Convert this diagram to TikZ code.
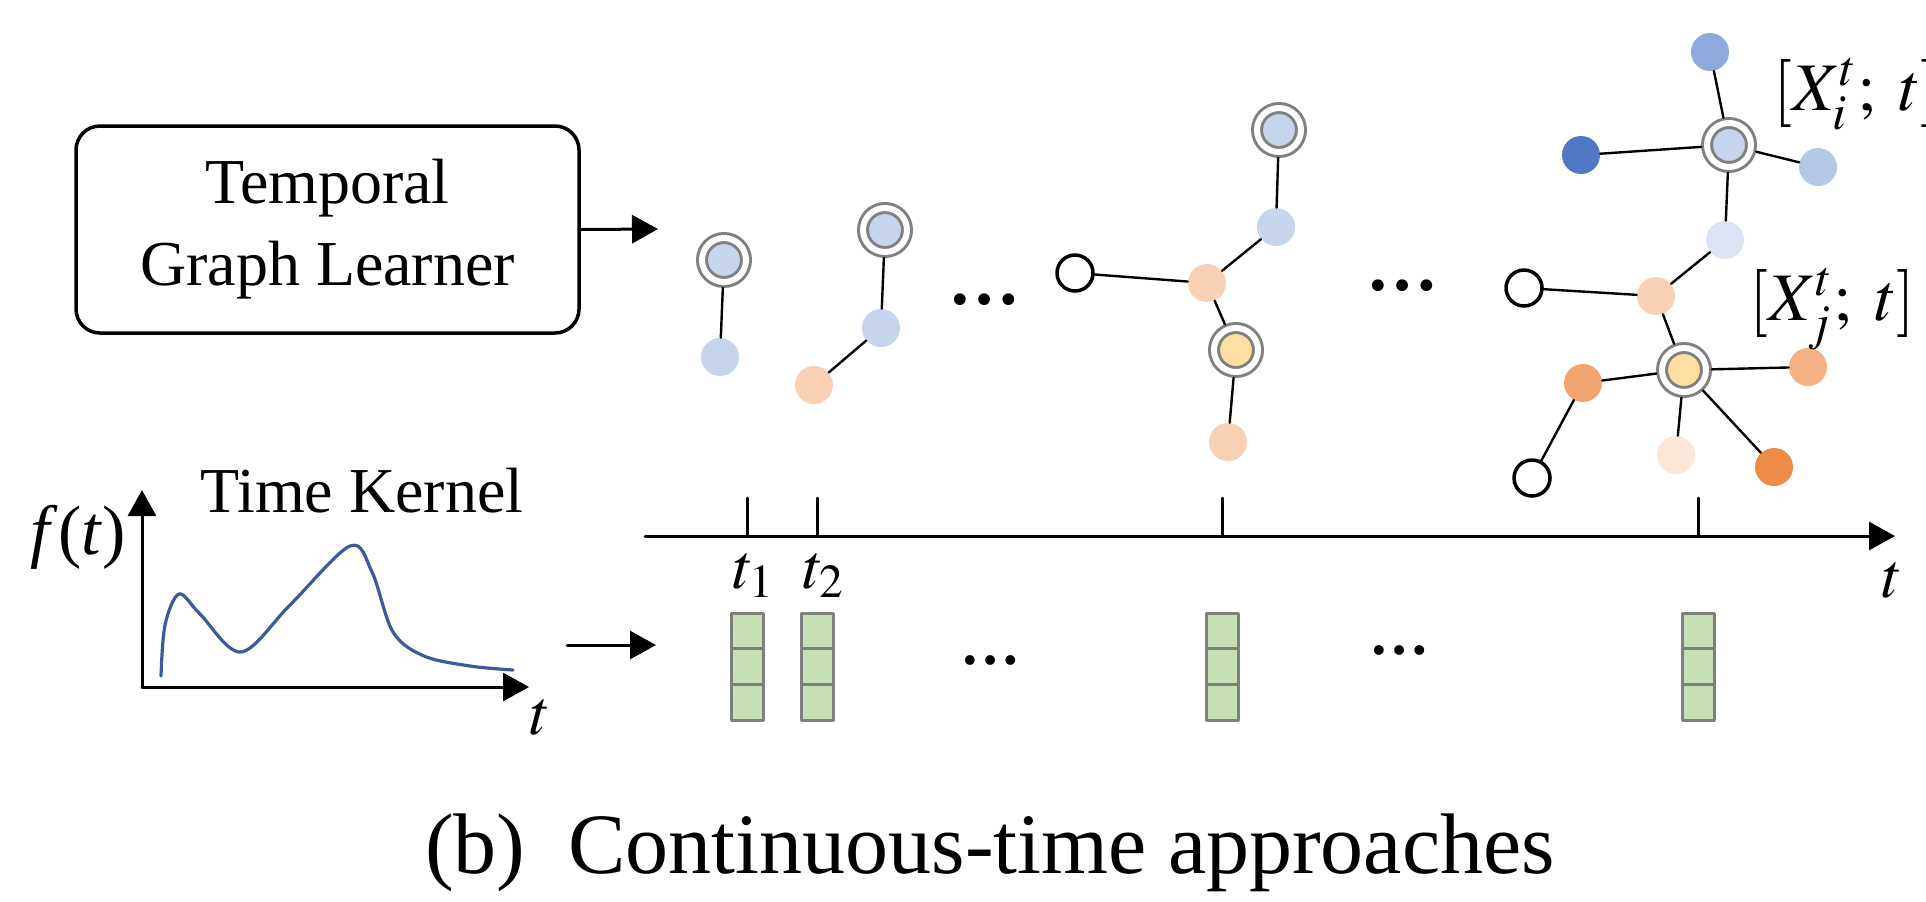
\documentclass[tikz,border=0pt]{standalone}
\usepackage{mathptmx}
\usepackage{fontspec}
\setmainfont{Liberation Serif}
\usetikzlibrary{arrows.meta}

\definecolor{ringgray}{HTML}{808080}
\definecolor{bluelt}{HTML}{C6D4EC}
\definecolor{bluemd}{HTML}{8EA9DB}
\definecolor{bluedk}{HTML}{5277C4}
\definecolor{bluesk}{HTML}{B4C7E7}
\definecolor{bluepl}{HTML}{DCE4F3}
\definecolor{peach}{HTML}{F8D0B3}
\definecolor{peachpl}{HTML}{FBE6D8}
\definecolor{yolk}{HTML}{FDDFA2}
\definecolor{orangemd}{HTML}{F0A46F}
\definecolor{orangelt}{HTML}{F4B183}
\definecolor{orangedk}{HTML}{EE8B48}
\definecolor{kernblue}{HTML}{3A5A9A}
\definecolor{cellgreen}{HTML}{C6E0B4}
\definecolor{cellgray}{HTML}{7F7F7F}

\begin{document}
\begin{tikzpicture}[x = 0.5pt, y = -0.5pt, line cap = round, line join = round,
  every node/.style = {inner sep = 0pt},
  vtx/.style = {circle, minimum size = 19pt, fill = #1},
  hub/.style = {circle, minimum size = 22pt, fill = #1, draw = ringgray,
    line width = 1.5pt, double = white, double distance = 3pt, outer sep = 3pt},
  hollow/.style = {circle, minimum size = 18pt, fill = white, draw = black,
    line width = 1.75pt},
  link/.style = {line width = 1.2pt},
  axis/.style = {line width = 1.5pt, -{Triangle[length = 13pt, width = 14pt]}},
  cell/.style = {draw = cellgray, fill = cellgreen, line width = 1.5pt},
  big/.style = {font = \fontsize{32}{41}\selectfont},
  feat/.style = {font = \fontsize{34}{41}\selectfont, anchor = base west},
  gap/.style = {font = \fontsize{#1}{#1}\selectfont\bfseries}]

  \useasboundingbox (0, 0) rectangle (1926, 901);

  \node[big, draw, line width = 1.75pt, rounded corners = 12pt, align = center,
  minimum width = 251.5pt, minimum height = 103.5pt] (learner) at (327.5, 229.5)
  {Temporal\\Graph Learner};
  \coordinate (graphs) at (658, 229);
  \draw[axis] (learner.east) -- (graphs);

  \node[hub = bluelt] (a1) at (724, 260) {};
  \node[vtx = bluelt] (a2) at (720, 357) {};
  \draw[link] (a1) -- (a2);

  \node[hub = bluelt] (b1) at (885, 230) {};
  \node[vtx = bluelt] (b2) at (881, 328) {};
  \node[vtx = peach] (b3) at (814, 385) {};
  \draw[link] (b1) -- (b2) -- (b3);

  \node[gap = 36] (gapA) at (984, 300) {\dots};

  \node[hollow] (c0) at (1075, 273) {};
  \node[vtx = peach] (c1) at (1207, 283) {};
  \node[vtx = bluelt] (c2) at (1276, 227) {};
  \node[hub = bluelt] (c3) at (1279, 130) {};
  \node[hub = yolk] (c4) at (1236, 350) {};
  \node[vtx = peach] (c5) at (1228, 442) {};
  \draw[link] (c0) -- (c1) -- (c2) -- (c3);
  \draw[link] (c1) -- (c4) -- (c5);

  \node[gap = 36] (gapB) at (1402, 286) {\dots};

  \node[hub = bluelt] (xi) at (1729, 145) {};
  \node[vtx = bluemd] (d1) at (1710, 52) {};
  \node[vtx = bluedk] (d2) at (1581, 155) {};
  \node[vtx = bluesk] (d3) at (1818, 167) {};
  \node[vtx = bluepl] (d4) at (1725, 240) {};
  \node[hollow] (d5) at (1524, 288) {};
  \node[vtx = peach] (d6) at (1656, 296) {};
  \node[hub = yolk] (xj) at (1684, 370) {};
  \node[vtx = orangemd] (d7) at (1583, 383) {};
  \node[vtx = orangelt] (d8) at (1808, 367) {};
  \node[vtx = peachpl] (d9) at (1676, 455) {};
  \node[vtx = orangedk] (d10) at (1774, 467) {};
  \node[hollow] (d11) at (1532, 478) {};
  \draw[link] (d1) -- (xi);
  \draw[link] (d2) -- (xi) -- (d3);
  \draw[link] (xi) -- (d4) -- (d6) -- (d5);
  \draw[link] (d6) -- (xj) -- (d7) -- (d11);
  \draw[link] (xj) -- (d8);
  \draw[link] (xj) -- (d9);
  \draw[link] (xj) -- (d10);

  \node[feat] (xilabel) at (1773, 110) {$[X_i^t;\;t]$};
  \node[feat] (xjlabel) at (1749, 320) {$[X_j^t;\;t]$};

  \coordinate (tstart) at (645, 536);
  \coordinate (tend) at (1895, 536);
  \draw[axis] (tstart) -- (tend);
  \node[big] (tlabel) at (1892, 580) {$t$};
  \foreach \x in {747, 817, 1222, 1698} {
    \draw[line width = 1.5pt] (\x, 498) -- (\x, 536);
    \foreach \k in {0, 1, 2}
      \draw[cell] (\x - 16, 613 + \k * 35.7) rectangle ++(32, 35.7);
  }
  \node[big, anchor = base] (t1) at (754, 588) {$t_1$};
  \node[big, anchor = base] (t2) at (824, 588) {$t_2$};
  \node[gap = 30] (gapC) at (990, 660) {\dots};
  \node[gap = 30] (gapD) at (1399, 650) {\dots};

  \coordinate (origin) at (142, 687);
  \coordinate (ftop) at (142, 490);
  \coordinate (tright) at (529, 687);
  \draw[axis] (origin) -- (ftop);
  \draw[axis] (origin) -- (tright);
  \node[font = \fontsize{35}{40}\selectfont] (flabel) at (78, 537)
  {\textit{f}(\textit{t})};
  \node[big] (tk) at (540, 717) {$t$};
  \node[big, anchor = base] (kernel) at (362, 512) {Time Kernel};
  \draw[kernblue, line width = 1.6pt] plot[smooth, tension = 0.55] coordinates
  {(161, 676) (165, 625) (179, 594) (200, 614) (241, 652) (290, 605)
   (350, 546) (372, 572) (393, 632) (424, 656) (470, 666) (513, 670)};
  \coordinate (ka) at (567, 645);
  \coordinate (kb) at (656, 645);
  \draw[axis] (ka) -- (kb);

  \node[font = \fontsize{43}{50}\selectfont, anchor = base] (caption) at (990, 873)
  {(b)~~Continuous-time approaches};
\end{tikzpicture}
\end{document}
